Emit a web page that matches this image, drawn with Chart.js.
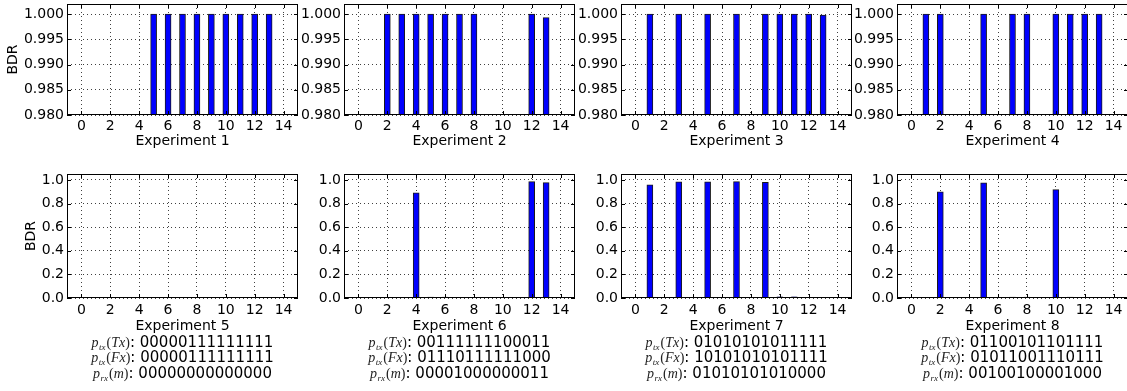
<!DOCTYPE html>
<html>
<head>
<meta charset="utf-8">
<script src="https://cdn.jsdelivr.net/npm/chart.js@4"></script>
<style>
  html, body { margin: 0; padding: 0; background: #fff; overflow: hidden; }
  body { width: 1127px; height: 391px; position: relative; }
  .box { position: absolute; }
  .pl {
    position: absolute; width: 280px; text-align: center;
    font-family: 'DejaVu Sans', sans-serif; font-size: 15px; line-height: 15.5px; color: #000;
    white-space: nowrap;
  }
  .pl .m { font-family: 'Liberation Serif', serif; font-size: 14px; color: #222; }
  .pl .m i { font-style: italic; }
  .pl sub { font-size: 9px; line-height: 0; vertical-align: -3px; margin: 0 1px 0 0.5px; }
</style>
</head>
<body>
<script>
// bar positions (time slots) and the x tick labels
const slots = [0, 1, 2, 3, 4, 5, 6, 7, 8, 9, 10, 11, 12, 13];
const xTicks = [0, 2, 4, 6, 8, 10, 12, 14];

// top row: BDR zoomed in near 1
const topTicks = [0.980, 0.985, 0.990, 0.995, 1.000];
const exp1 = [0, 0, 0, 0, 0, 1, 1, 1, 1, 1, 1, 1, 1, 1];
const exp2 = [0, 0, 1, 1, 1, 1, 1, 1, 1, 0, 0, 0, 1, 0.9993];
const exp3 = [0, 1, 0, 1, 0, 1, 0, 1, 0, 1, 1, 1, 1, 0.9998];
const exp4 = [0, 1, 1, 0, 0, 1, 0, 1, 1, 0, 1, 1, 1, 1];

// bottom row: full 0..1 range
const bottomTicks = [0.0, 0.2, 0.4, 0.6, 0.8, 1.0];
const exp5 = [0, 0, 0, 0, 0, 0.001, 0.001, 0.001, 0.001, 0.001, 0.001, 0.001, 0.001, 0.001];
const exp6 = [0, 0, 0.002, 0.005, 0.891, 0.008, 0.008, 0.005, 0.003, 0, 0, 0, 0.986, 0.977];
const exp7 = [0, 0.958, 0, 0.983, 0, 0.983, 0, 0.986, 0, 0.980, 0.01, 0.01, 0.005, 0.003];
const exp8 = [0, 0.003, 0.899, 0, 0, 0.975, 0, 0.008, 0.008, 0, 0.918, 0.008, 0.003, 0.003];

// patterns printed under the bottom row
const ptxTx = ['00000111111111', '00111111100011', '01010101011111', '01100101101111'];
const ptxFx = ['00000111111111', '01110111111000', '10101010101111', '01011001110111'];
const prxM  = ['00000000000000', '00001000000011', '01010101010000', '00100100001000'];

Chart.defaults.font.family = "'DejaVu Sans', sans-serif";
Chart.defaults.font.size = 14;
Chart.defaults.color = '#000';

const plotLefts = [67, 344, 621, 897];
const plotW = 231;
const yAxisW = 64;

// matplotlib-like box with inward ticks on all four sides
const framePlugin = {
  id: 'frame',
  afterDatasetsDraw(chart) {
    const { ctx, chartArea: a, scales: { x, y } } = chart;
    ctx.save();
    ctx.strokeStyle = '#000';
    ctx.lineWidth = 1;
    ctx.beginPath();
    x.ticks.forEach(t => {
      const px = Math.round(x.getPixelForValue(t.value)) + 0.5;
      ctx.moveTo(px, a.bottom); ctx.lineTo(px, a.bottom - 4);
      ctx.moveTo(px, a.top); ctx.lineTo(px, a.top + 4);
    });
    y.ticks.forEach(t => {
      const py = Math.round(y.getPixelForValue(t.value)) + 0.5;
      ctx.moveTo(a.left, py); ctx.lineTo(a.left + 4, py);
      ctx.moveTo(a.right, py); ctx.lineTo(a.right - 4, py);
    });
    ctx.stroke();
    ctx.strokeRect(a.left + 0.5, a.top + 0.5, a.right - a.left - 1, a.bottom - a.top - 1);
    ctx.restore();
  }
};

function makeChart(cfg) {
  const div = document.createElement('div');
  div.className = 'box';
  const w = yAxisW + plotW + 2;
  div.style.left = (cfg.plotLeft - yAxisW) + 'px';
  div.style.top = cfg.top + 'px';
  const canvas = document.createElement('canvas');
  canvas.width = w;
  canvas.height = cfg.height;
  div.appendChild(canvas);
  document.body.appendChild(div);

  return new Chart(canvas, {
    type: 'bar',
    data: {
      datasets: [{
        data: slots.map((s, i) => ({ x: s, y: cfg.values[i] })),
        backgroundColor: '#0000ff',
        borderColor: '#1a1a1a',
        borderWidth: 1,
        borderSkipped: 'start',
        barThickness: 6,
        clip: 0
      }]
    },
    options: {
      responsive: false,
      animation: false,
      layout: { padding: { top: cfg.padTop, right: 2, left: 0, bottom: 0 } },
      plugins: { legend: { display: false }, tooltip: { enabled: false } },
      scales: {
        x: {
          type: 'linear',
          min: -1,
          max: 15,
          offset: false,
          grid: { color: 'rgba(0,0,0,0.75)', lineWidth: 1, drawTicks: false, offset: false },
          border: { display: false, dash: [1, 3] },
          ticks: { autoSkip: false, maxRotation: 0, padding: cfg.xPad, callback: v => String(v) },
          title: { display: true, text: cfg.title, padding: { top: 0, bottom: 0 } },
          afterBuildTicks: s => { s.ticks = xTicks.map(v => ({ value: v })); },
          afterFit: s => { s.height = cfg.xAxisH; s.paddingLeft = 0; s.paddingRight = 0; }
        },
        y: {
          min: cfg.yMin,
          max: cfg.yMax,
          beginAtZero: false,
          grid: { color: 'rgba(0,0,0,0.75)', lineWidth: 1, drawTicks: false },
          border: { display: false, dash: [1, 3] },
          ticks: { padding: 3, callback: v => v.toFixed(cfg.digits) },
          title: { display: cfg.showY, text: 'BDR', padding: { top: cfg.yTitlePad, bottom: 0 } },
          afterBuildTicks: s => { s.ticks = cfg.yTicks.map(v => ({ value: v })); },
          afterFit: s => { s.width = yAxisW; s.paddingTop = 0; s.paddingBottom = 0; }
        }
      }
    },
    plugins: [framePlugin]
  });
}

const topSeries = [exp1, exp2, exp3, exp4];
const bottomSeries = [exp5, exp6, exp7, exp8];

topSeries.forEach((vals, i) => {
  makeChart({
    plotLeft: plotLefts[i], top: 0, height: 150, padTop: 4, xAxisH: 35, xPad: 3,
    values: vals, yMin: 0.98, yMax: 1.002, yTicks: topTicks, digits: 3,
    title: 'Experiment ' + (i + 1), showY: i === 0, yTitlePad: 2
  });
});

bottomSeries.forEach((vals, i) => {
  makeChart({
    plotLeft: plotLefts[i], top: 160, height: 175, padTop: 14, xAxisH: 37, xPad: 4,
    values: vals, yMin: 0, yMax: 1.05, yTicks: bottomTicks, digits: 1,
    title: 'Experiment ' + (i + 5), showY: i === 0, yTitlePad: 20
  });

  // the three pattern lines under each bottom plot
  const rows = [
    ['tx', 'Tx', ptxTx[i]],
    ['tx', 'Fx', ptxFx[i]],
    ['rx', 'm', prxM[i]]
  ];
  rows.forEach((r, k) => {
    const line = document.createElement('div');
    line.className = 'pl';
    line.style.left = (plotLefts[i] + plotW / 2 - 140) + 'px';
    line.style.top = (335 + k * 15.3) + 'px';
    line.innerHTML = '<span class="m"><i>p</i><sub><i>' + r[0] + '</i></sub>(<i>' + r[1] + '</i>)</span>: ' + r[2];
    document.body.appendChild(line);
  });
});
</script>
</body>
</html>
